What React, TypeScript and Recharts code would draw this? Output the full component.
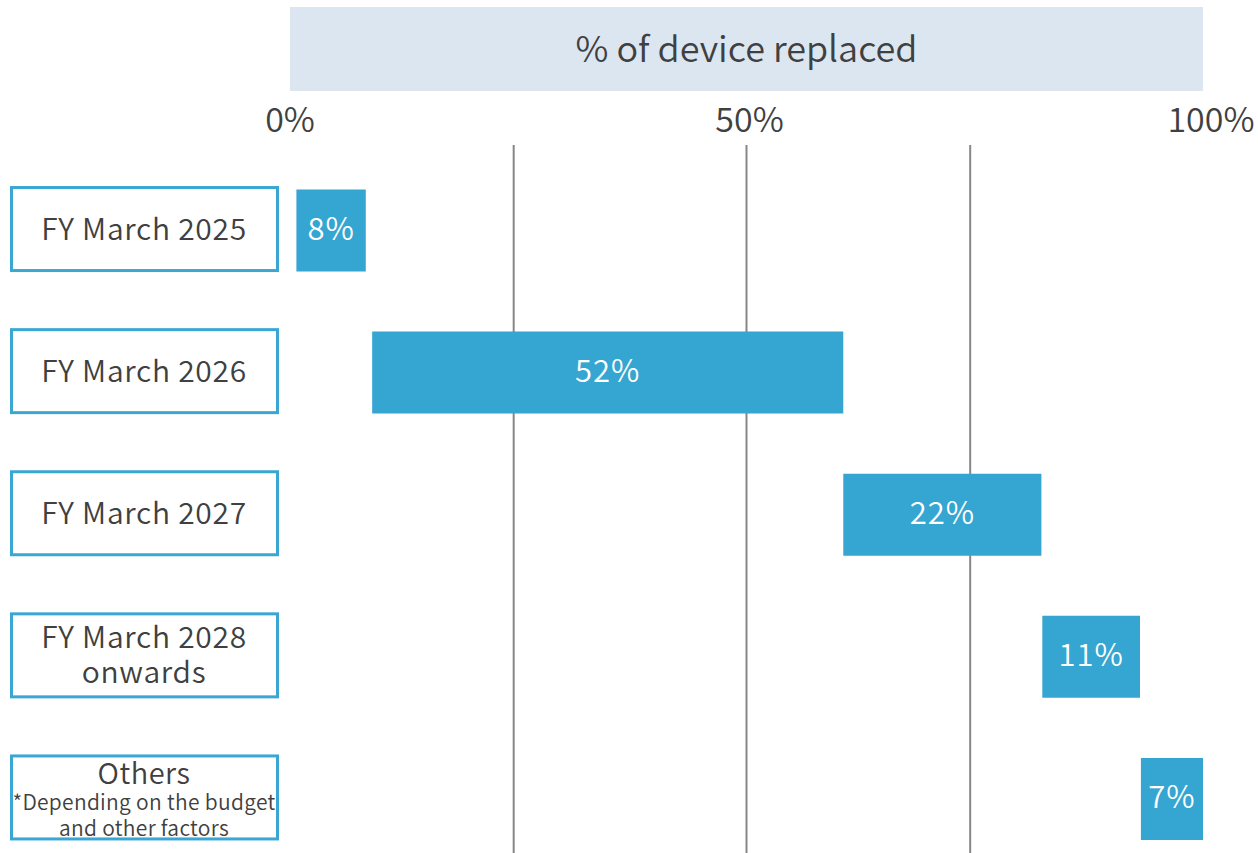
import { BarChart, Bar, XAxis, YAxis, ReferenceLine, LabelList } from "recharts";

const categories = [
  "FY March 2025",
  "FY March 2026",
  "FY March 2027",
  "FY March 2028\nonwards",
  "Others",
];
const categoryNotes = ["", "", "", "", "*Depending on the budget\nand other factors"];
const shares = [8, 52, 22, 11, 7];
// where each bar starts / ends on the 0-100% axis (bars are drawn with small gaps)
const barStarts = [0.7, 9.0, 60.6, 82.4, 93.2];
const barEnds = [8.3, 60.6, 82.3, 93.1, 100];
const xTicks = [0, 50, 100];
const gridValues = [24.5, 50, 74.5];

const data = categories.map((name, i) => ({
  name,
  start: barStarts[i],
  len: +(barEnds[i] - barStarts[i]).toFixed(1),
  share: shares[i],
}));

const FONT = "'Noto Sans CJK JP', 'Noto Sans', sans-serif";
const TEXT = "#404040";
const BLUE = "#35A5D1";
const W = 350;

function TopTick({ x, y, payload }: any) {
  // the last label hangs a bit past the axis end in the original
  const dx = payload.value === 100 ? 8 : payload.value === 50 ? 3 : 0;
  return (
    <text x={x + dx} y={y} textAnchor="middle" fontSize={34} fontWeight={W} fill={TEXT} fontFamily={FONT}>
      {payload.value}%
    </text>
  );
}

function CategoryTick({ y, payload }: any) {
  const i = categories.indexOf(payload.value);
  const lines: string[] = payload.value.split("\n");
  const notes: string[] = categoryNotes[i] ? categoryNotes[i].split("\n") : [];
  return (
    <g>
      <rect x={11.5} y={y - 43} width={266} height={83} fill="#fff" stroke="#3AA6D3" strokeWidth={3} />
      {notes.length === 0 ? (
        lines.map((l, k) => (
          <text
            key={k}
            x={144}
            y={y - 4 + (k - (lines.length - 1) / 2) * 35}
            textAnchor="middle"
            dominantBaseline="central"
            fontSize={30}
            fontWeight={W}
            letterSpacing={0.7}
            fill={TEXT}
            fontFamily={FONT}
          >
            {l}
          </text>
        ))
      ) : (
        <g>
          <text
            x={144}
            y={y - 28}
            textAnchor="middle"
            dominantBaseline="central"
            fontSize={29}
            fontWeight={W}
            letterSpacing={0.5}
            fill={TEXT}
            fontFamily={FONT}
          >
            {lines[0]}
          </text>
          {notes.map((n, k) => (
            <text
              key={k}
              x={144}
              y={y + 2 + k * 26}
              textAnchor="middle"
              dominantBaseline="central"
              fontSize={21}
              fontWeight={W}
              letterSpacing={0.3}
              fill={TEXT}
              fontFamily={FONT}
            >
              {n}
            </text>
          ))}
        </g>
      )}
    </g>
  );
}

function BarLabel({ x, y, width, height, value }: any) {
  return (
    <text
      x={x + width / 2}
      y={y + height / 2 - 4}
      textAnchor="middle"
      dominantBaseline="central"
      fontSize={31}
      fontWeight={W}
      letterSpacing={1}
      fill="#fff"
      fontFamily={FONT}
    >
      {value}%
    </text>
  );
}

export default function App() {
  return (
    <div
      style={{
        position: "absolute",
        left: 0,
        top: 0,
        width: 1258,
        height: 853,
        overflow: "hidden",
        background: "#fff",
        fontFamily: FONT,
      }}
    >
      <div
        style={{
          position: "absolute",
          left: 290,
          top: 7,
          width: 913,
          height: 84,
          background: "#DCE6F1",
          color: TEXT,
          fontSize: 36,
          fontWeight: W,
          display: "flex",
          alignItems: "center",
          justifyContent: "center",
          boxSizing: "border-box",
          paddingBottom: 6,
        }}
      >
        % of device replaced
      </div>
      <BarChart
        width={1258}
        height={870}
        data={data}
        layout="vertical"
        margin={{ top: 115, right: 55, left: 0, bottom: 0 }}
        barSize={82}
      >
        <XAxis
          type="number"
          orientation="top"
          domain={[0, 100]}
          ticks={xTicks}
          height={30}
          axisLine={false}
          tickLine={false}
          tickMargin={7}
          tick={<TopTick />}
          interval={0}
        />
        <YAxis
          type="category"
          dataKey="name"
          width={290}
          axisLine={false}
          tickLine={false}
          padding={{ top: 14.5, bottom: 0 }}
          tick={<CategoryTick />}
          interval={0}
        />
        {gridValues.map((v) => (
          <ReferenceLine key={v} x={v} stroke="#878787" strokeWidth={2} zIndex={-50} />
        ))}
        <Bar dataKey="start" stackId="a" fill="none" isAnimationActive={false} />
        <Bar dataKey="len" stackId="a" fill={BLUE} isAnimationActive={false}>
          <LabelList dataKey="share" content={<BarLabel />} />
        </Bar>
      </BarChart>
    </div>
  );
}
